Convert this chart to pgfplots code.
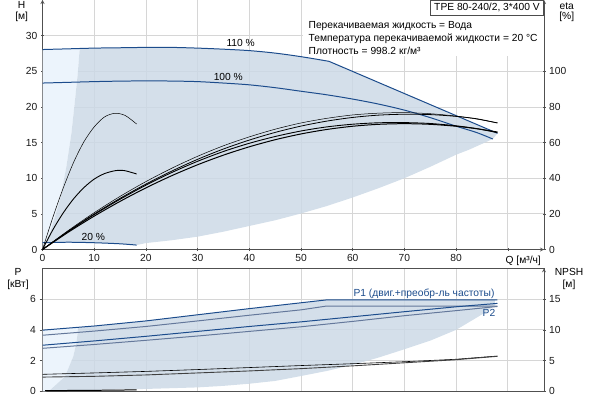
\documentclass[border=0pt]{standalone}
\usepackage{fontspec}
\setmainfont{Liberation Sans}
\usepackage{pgfplots}
\pgfplotsset{compat=1.18}
\definecolor{shade}{RGB}{204,217,230}
\definecolor{lightshade}{RGB}{236,244,252}
\definecolor{curveblue}{RGB}{28,76,140}
\definecolor{p2gray}{RGB}{100,120,155}
\definecolor{gridgray}{RGB}{214,214,214}
\definecolor{spine}{RGB}{80,80,80}
\pgfplotsset{
  common/.style={
    scale only axis, anchor=south west, width=501.5bp,
    xmin=0, xmax=97,
    tick align=outside, major tick length=3bp,
    tick style={draw=spine, line width=0.6pt},
    tick label style={font=\fontsize{10.3}{12}\selectfont, text=black!90},
    /pgf/number format/assume math mode=true,
    axis line style={-, draw=spine, line width=0.8pt},
    major grid style={draw=gridgray, line width=0.8pt},
  },
}
\begin{document}
\fontsize{10.3}{12}\selectfont
\begin{tikzpicture}[x=1bp,y=1bp]
\path[use as bounding box] (0,0) rectangle (600,400);

% ---------------- top: H ----------------
\begin{axis}[common, at={(42.5bp,150.5bp)}, height=249.5bp,
  ymin=0, ymax=35,
  axis x line=bottom, axis y line=left,
  xtick={0,10,...,90}, xticklabels={0,10,20,30,40,50,60,70,80,{}},
  ytick={0,5,...,30}, grid=major]
\addplot[fill=lightshade, draw=none] coordinates {(0,0) (0,28.05) (5,28.15) (7.2,28.18) (6.8,24.5) (6.3,21) (5.6,16.3) (4.6,11.5) (3.4,7) (1.45,2.3) (0,0)} -- cycle;
\addplot[fill=shade, draw=none, fill opacity=0.85] coordinates {(7.2,28.18) (10,28.25) (15,28.3) (20,28.35) (25,28.35) (30,28.25) (35,28.1) (40,27.9) (45,27.55) (50,27.05) (55.4,26.4) (60,25.0) (65,23.45) (70,21.9) (75,20.35) (80,18.8) (85,17.25) (88,16.3) (87.1,15.5) (82.5,14.0) (80,13.3) (75,11.6) (70,10.0) (65,8.6) (60,7.3) (55,6.1) (50,5.05) (45,4.1) (40,3.3) (35,2.5) (30,1.8) (25,1.3) (20,0.9) (18.2,0.62) (15,0.8) (10,0.95) (5,1.02) (0.8,1.0) (0,0) (1.45,2.3) (3.4,7) (4.6,11.5) (5.6,16.3) (6.3,21) (6.8,24.5)} -- cycle;
% 110 %
\addplot[curveblue, line width=1pt, smooth] coordinates {(0,28.05) (5,28.15) (10,28.25) (15,28.3) (20,28.35) (25,28.35) (30,28.25) (35,28.1) (40,27.9) (45,27.55) (50,27.05) (55.4,26.4)};
\addplot[curveblue, line width=1pt] coordinates {(55.4,26.4) (88,16.3)};
% 100 %
\addplot[curveblue, line width=1pt, smooth] coordinates {(0,23.35) (5,23.45) (10,23.55) (15,23.62) (20,23.65) (25,23.63) (30,23.55) (35,23.35) (40,23.1) (45,22.7) (50,22.2) (55,21.7) (60,21.1) (65,20.4) (70,19.55) (75,18.5) (80,17.3) (84,16.4) (87.1,15.5)};
% 20 %
\addplot[curveblue, line width=1pt, smooth] coordinates {(0,0.95) (5,1.02) (10,0.95) (15,0.8) (18.2,0.62)};
\end{axis}

% ---------------- top: eta ----------------
\begin{axis}[common, at={(42.5bp,150.5bp)}, height=249.5bp,
  ymin=0, ymax=140,
  axis x line=none, axis y line=right,
  ytick={0,20,...,100}]
\addplot[black, line width=0.5pt, smooth] coordinates {(0,0) (5,10.7) (10,20.65) (15,29.8) (20,38.1) (25,45.6) (30,52.3) (35,58.2) (40,63.2) (45,67.5) (50,71.0) (55,73.6) (60,75.5) (65,76.5) (70,76.8) (75,76.2) (80,74.85) (84,73.2) (88,71.0)};
\addplot[black, line width=0.8pt, smooth] coordinates {(0,0) (5,10.3) (10,19.9) (15,28.7) (20,36.7) (25,44.0) (30,50.6) (35,56.4) (40,61.4) (45,65.7) (50,69.25) (55,72.05) (60,74.1) (65,75.4) (70,75.9) (75,75.7) (80,74.7) (84,73.35) (88,71.0)};
\addplot[black, line width=0.9pt, smooth] coordinates {(0,0) (5,10.2) (10,19.6) (15,28.2) (20,36.1) (25,43.2) (30,49.5) (35,55) (40,59.6) (45,63.4) (50,66.5) (55,68.8) (60,70.3) (65,71.1) (70,71.2) (75,70.7) (80,69.4) (84,67.8) (88,65.6)};
\addplot[black, line width=1pt, smooth] coordinates {(0,0) (5,9.73) (10,18.73) (15,27.0) (20,34.58) (25,41.42) (30,47.55) (35,52.95) (40,57.63) (45,61.6) (50,64.84) (55,67.36) (60,69.16) (65,70.24) (70,70.6) (75,70.24) (80,69.16) (84,67.78) (88,65.93)};
\addplot[black, line width=0.5pt, smooth] coordinates {(0,0) (2,18) (4,34.4) (6,48.8) (8,60.4) (10,68.8) (12,74.4) (14,76.4) (16,75.2) (18.2,70.4)};
\addplot[black, line width=0.9pt, smooth] coordinates {(0,0) (2,11.05) (4,20.5) (6,28.4) (8,34.7) (10,39.5) (12,42.6) (14,44.2) (15,44.4) (16,44.2) (18.2,42.4)};
\end{axis}

% ---------------- bottom: P ----------------
\begin{axis}[common, at={(42.5bp,8.6bp)}, height=123.1bp,
  ymin=0, ymax=8,
  xtick={0,10,...,90}, xticklabels={}, xtick style={draw=none},
  ytick={0,2,4,6}, ytick pos=left, grid=major]
\addplot[fill=lightshade, draw=none] coordinates {(0,0) (0,3.98) (6.9,4.15) (6.6,3.2) (5.95,2.26) (4.35,0.96) (1.45,0.08) (0.5,0)} -- cycle;
\addplot[fill=shade, draw=none, fill opacity=0.85] coordinates {(6.9,4.15) (10,4.25) (20,4.58) (30,4.98) (40,5.38) (50,5.76) (55,5.95) (87.5,5.95) (87.5,5.6) (85.5,5.1) (82,4.4) (80,4.0) (75,3.3) (70,2.74) (65,2.2) (60,1.72) (55,1.33) (50,1.0) (45,0.68) (40,0.5) (35,0.36) (30,0.26) (20,0.16) (10,0.1) (1.45,0.08) (4.35,0.96) (5.95,2.26) (6.6,3.2)} -- cycle;
\addplot[curveblue, line width=1pt] coordinates {(0,3.98) (10,4.25) (20,4.58) (30,4.98) (40,5.38) (50,5.76) (55,5.95) (88,5.95)};
\addplot[p2gray, line width=1pt] coordinates {(0,3.65) (10,3.92) (20,4.22) (30,4.58) (40,4.95) (50,5.3) (55,5.55) (88,5.55)};
\addplot[curveblue, line width=1pt] coordinates {(0,3.0) (10,3.28) (20,3.58) (30,3.9) (40,4.22) (50,4.52) (60,4.85) (70,5.18) (80,5.5) (88,5.72)};
\addplot[p2gray, line width=1pt] coordinates {(0,2.8) (10,3.05) (20,3.32) (30,3.6) (40,3.9) (50,4.2) (60,4.55) (70,4.92) (80,5.25) (88,5.52)};
\addplot[black, line width=0.6pt] coordinates {(0,1.11) (10,1.2) (20,1.3) (30,1.42) (40,1.55) (50,1.68) (60,1.8) (70,1.93) (80,2.09) (88,2.3)};
\addplot[black!75, line width=0.9pt] coordinates {(0,0.93) (10,0.98) (20,1.07) (30,1.2) (40,1.33) (50,1.48) (60,1.66) (70,1.86) (80,2.06) (88,2.28)};
\addplot[black, line width=1pt] coordinates {(0.5,0.05) (10,0.07) (18.2,0.1)};
\end{axis}

% ---------------- bottom: NPSH ----------------
\begin{axis}[common, at={(42.5bp,8.6bp)}, height=123.1bp,
  ymin=0, ymax=20,
  axis x line=none, axis y line=right,
  ytick={0,5,10,15}]
\end{axis}

% ---------------- texts ----------------
\fill[white] (303,344.5) rectangle (543.5,400);
\draw[black!70, fill=white, line width=0.6pt] (430.7,384.3) rectangle (543.3,399.7);
\node at (487,392.2) {TPE 80-240/2, 3*400 V};
\node[anchor=west] at (305,374) {Перекачиваемая жидкость = Вода};
\node[anchor=west] at (305,361.3) {Температура перекачиваемой жидкости = 20 °C};
\node[anchor=west] at (305,349) {Плотность = 998.2 кг/м³};

\node at (21.7,395) {H};
\node at (21.7,383.3) {[м]};
\node at (566.7,394) {eta};
\node at (566.7,383.3) {[\%]};
\node[anchor=west] at (502,139) {Q [м³/ч]};

\node at (240.7,357.3) {110 \%};
\node at (228.3,323.3) {100 \%};
\node at (93.3,163.3) {20 \%};

\node at (18,128) {P};
\node at (18,115.5) {[кВт]};
\node at (569,128) {NPSH};
\node at (569,115.5) {[м]};
\node[text=curveblue] at (424,106) {P1 (двиг.+преобр-ль частоты)};
\node[text=curveblue] at (489,86.7) {P2};
\end{tikzpicture}
\end{document}
